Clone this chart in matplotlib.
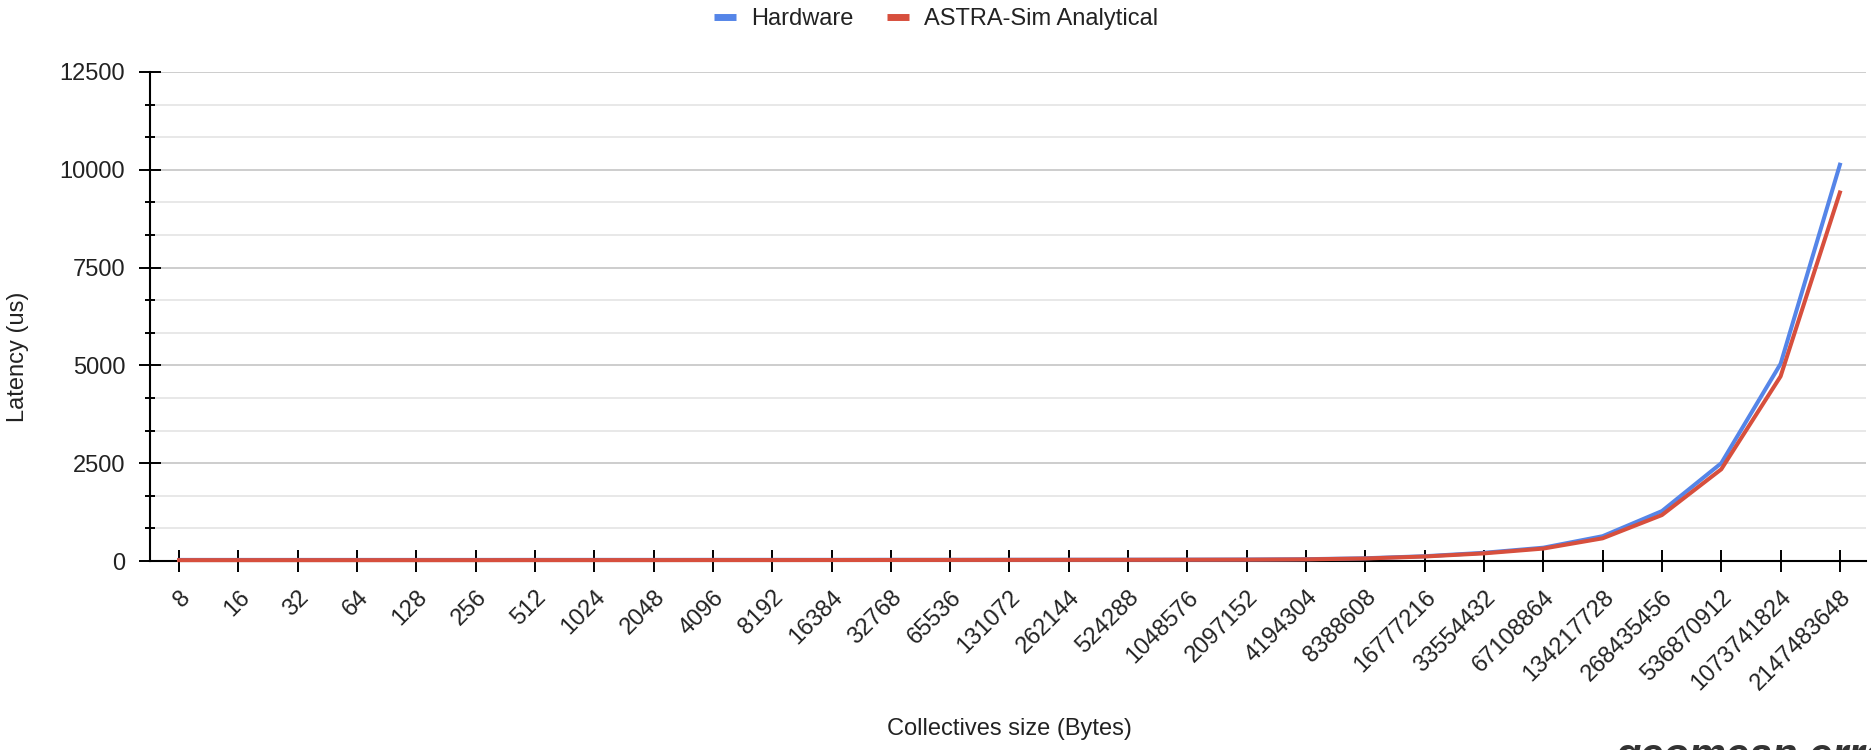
import numpy as np
import matplotlib
matplotlib.use("Agg")
import matplotlib.pyplot as plt
from matplotlib.lines import Line2D
from matplotlib.ticker import MultipleLocator

plt.rcParams.update({
    "font.family": ["Liberation Sans", "DejaVu Sans"],
    "font.size": 17,
    "text.color": "#222222",
    "xtick.color": "black", "ytick.color": "black",
    "xtick.labelcolor": "#222222", "ytick.labelcolor": "#222222",
})

BLUE = "#5585e8"   # hardware
RED = "#d74f3d"    # ASTRA-Sim analytical

sizes = [str(2 ** k) for k in range(3, 32)]
hardware = [28, 28, 28, 28, 28, 28, 29, 29, 29, 30, 30, 30, 31, 31, 32, 33, 34,
            35, 38, 46, 70, 122, 210, 340, 634, 1276, 2500, 5040, 10130]
astra = [22, 22, 22, 22, 22, 22, 23, 23, 23, 24, 24, 25, 26, 27, 28, 29, 30,
         32, 34, 42, 64, 115, 195, 318, 580, 1175, 2345, 4720, 9420]

W, H = 1871, 750
fig = plt.figure(figsize=(W / 100, H / 100), dpi=100)
ax = fig.add_axes([150 / W, 1 - 561 / H, (1866 - 150) / W, (561 - 72) / H])

x = np.arange(len(sizes))
ax.plot(x, hardware, color=BLUE, lw=2.9, zorder=3, clip_on=False)
ax.plot(x, astra, color=RED, lw=2.9, zorder=4, clip_on=False)

ax.set_xlim(-0.49, 28.44)
ax.set_ylim(0, 12500)
ax.set_xticks(x)
ax.set_xticklabels(sizes, rotation=45, ha="right", va="top", rotation_mode="anchor")
ax.yaxis.set_major_locator(MultipleLocator(2500))
ax.yaxis.set_minor_locator(MultipleLocator(2500 / 3))

for s in ("top", "right"):
    ax.spines[s].set_visible(False)
for s in ("left", "bottom"):
    ax.spines[s].set_linewidth(1.5)
    ax.spines[s].set_zorder(2.5)

ax.tick_params(axis="x", direction="inout", length=16.5, width=1.4, pad=10)
ax.tick_params(axis="y", which="major", direction="inout", length=16.5, width=1.4, pad=9.5)
ax.tick_params(axis="y", which="minor", direction="inout", length=7.2, width=1.4)

ax.set_axisbelow(True)
ax.grid(axis="y", which="major", color="#c9c9c9", lw=1.3)
ax.grid(axis="y", which="minor", color="#e6e6e6", lw=1.3)
ax.grid(axis="x", visible=False)

fig.text(1009 / W, 1 - 729 / H, "Collectives size (Bytes)", ha="center", va="center")
fig.text(18 / W, 1 - 357 / H, "Latency (us)", rotation=90, ha="center", va="center")

handles = [Line2D([], [], color=BLUE, lw=5, solid_capstyle="butt"),
           Line2D([], [], color=RED, lw=5, solid_capstyle="butt")]
fig.legend(handles, ["Hardware", "ASTRA-Sim Analytical"], loc="center",
           bbox_to_anchor=(936 / W, 1 - 19 / H), ncol=2, frameon=False,
           handlelength=0.93, handletextpad=0.64, columnspacing=1.4)

# caption below the chart, cut off by the bottom edge as in the source image
fig.text(1615 / W, 1 - 768 / H, "geomean error", fontsize=30, weight="bold",
         style="italic", color="#333333", va="baseline", ha="left")

fig.savefig("out.png", dpi=100)
